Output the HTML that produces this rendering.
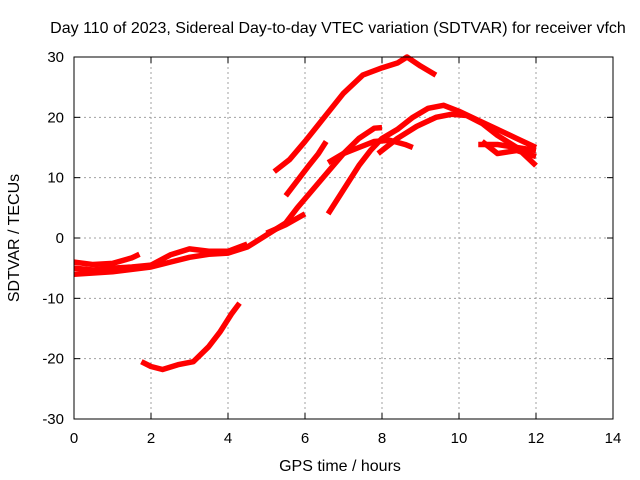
<!DOCTYPE html>
<html><head><meta charset="utf-8"><style>
body{margin:0;background:#fff;}
svg{display:block;font-family:"Liberation Sans",Arial,sans-serif;}
</style></head><body>
<svg id="chart" width="640" height="480">
<text x="338" y="33" font-size="16" text-anchor="middle">Day 110 of 2023, Sidereal Day-to-day VTEC variation (SDTVAR) for receiver vfch</text>
<text x="340" y="471" font-size="16" text-anchor="middle">GPS time / hours</text>
<text transform="translate(19,238) rotate(-90)" font-size="16" text-anchor="middle">SDTVAR / TECUs</text>
<g id="grid"></g><g id="series"></g><g id="axes"></g>
</svg>
<script>
const xTicks=[0,2,4,6,8,10,12,14];
const yTicks=[-30,-20,-10,0,10,20,30];
const seriesA=[[5.2,11],[5.6,13],[6.0,16],[6.5,20],[7.0,24],[7.5,27],[8.0,28.2],[8.4,29],[8.65,30],[9.0,28.5],[9.4,27]];
const seriesB=[[5.5,7],[5.8,9.5],[6.1,12],[6.35,14],[6.55,16]];
const seriesC1=[[0,-6],[0.5,-5.8],[1,-5.6],[1.5,-5.2],[2,-4.8],[2.5,-4],[3,-3.2],[3.5,-2.7],[4,-2.5],[4.5,-1.5],[5,0.5],[5.5,2.5],[5.8,5],[6.2,8],[6.6,11],[7.0,14],[7.4,16.5],[7.8,18.2],[8.0,18.3]];
const seriesC2=[[0,-4],[0.5,-4.4],[1,-4.2],[1.5,-3.3],[1.7,-2.7]];
const seriesC3=[[0,-5],[0.5,-5.3],[1,-5],[1.5,-4.8],[2,-4.5],[2.5,-2.8],[3,-1.8],[3.5,-2.2],[4,-2.2],[4.5,-1]];
const seriesC4=[[5,0.8],[5.5,2.2],[6,4]];
const seriesD=[[6.6,4],[7.0,8],[7.4,12],[7.7,14.5],[8.0,16.5],[8.4,18],[8.8,20],[9.2,21.5],[9.6,22],[10,21],[10.5,19.5],[11,18],[11.5,16.5],[12,15]];
const seriesE=[[6.6,12.5],[7,14],[7.4,15],[7.8,16],[8.2,16.2],[8.6,15.5],[8.8,15]];
const seriesF=[[7.9,14],[8.4,16.5],[8.9,18.5],[9.4,20],[9.8,20.5],[10.2,20.3],[10.6,19],[11,17],[11.5,15],[12,12]];
const seriesG=[[10.6,16],[11,14],[11.5,14.5],[12,13.5]];
const seriesH=[[10.5,15.5],[11,15.5],[11.5,15],[12,14.5]];
const seriesLow=[[1.75,-20.5],[2,-21.3],[2.3,-21.8],[2.7,-21],[3.1,-20.5],[3.5,-18],[3.8,-15.5],[4.1,-12.5],[4.3,-10.8]];
const allSeries=[seriesA,seriesB,seriesC1,seriesC2,seriesC3,seriesC4,seriesD,seriesE,seriesF,seriesG,seriesH,seriesLow];
const X0=74,X1=613,Y0=419,Y1=57;
function xs(v){return X0+(v-0)/14*(X1-X0);}
function ys(v){return Y0-(v+30)/60*(Y0-Y1);}
const NS="http://www.w3.org/2000/svg";
const grid=document.getElementById('grid'),ax=document.getElementById('axes'),sg=document.getElementById('series');
function mk(t,a,p){const e=document.createElementNS(NS,t);for(const k in a)e.setAttribute(k,a[k]);p.appendChild(e);return e;}
xTicks.forEach(t=>{
 if(t>0&&t<14){const g=mk('line',{x1:xs(t),x2:xs(t),y1:Y0,y2:Y1,stroke:'#a0a0a0','stroke-dasharray':'2,3'},grid);
 
 }
 const l=mk('line',{x1:xs(t),x2:xs(t),y1:Y0,y2:Y0-6,stroke:'#000'},ax);
 
 
 mk('line',{x1:xs(t),x2:xs(t),y1:Y1,y2:Y1+6,stroke:'#000'},ax);
 const tx=mk('text',{x:xs(t),y:Y0+24,'font-size':15,'text-anchor':'middle'},ax);tx.textContent=t;
 
 
});
yTicks.forEach(t=>{
 if(t>-30&&t<30){const g=mk('line',{x1:X0,x2:X1,y1:ys(t),y2:ys(t),stroke:'#a0a0a0','stroke-dasharray':'2,3'},grid);
 
 }
 const l=mk('line',{x1:X0,x2:X0+6,y1:ys(t),y2:ys(t),stroke:'#000'},ax);
 
 
 mk('line',{x1:X1,x2:X1-6,y1:ys(t),y2:ys(t),stroke:'#000'},ax);
 const tx=mk('text',{x:X0-10,y:ys(t)+5,'font-size':15,'text-anchor':'end'},ax);tx.textContent=t;
 
 
});
const fr=mk('rect',{x:X0,y:Y1,width:X1-X0,height:Y0-Y1,fill:'none',stroke:'#000'},ax);


allSeries.forEach((s,i)=>{
 const p=mk('polyline',{points:s.map(d=>xs(d[0])+','+ys(d[1])).join(' '),fill:'none',stroke:'#ff0000','stroke-width':5.5,'stroke-linejoin':'round'},sg);
 
 
});
</script>
</body></html>
